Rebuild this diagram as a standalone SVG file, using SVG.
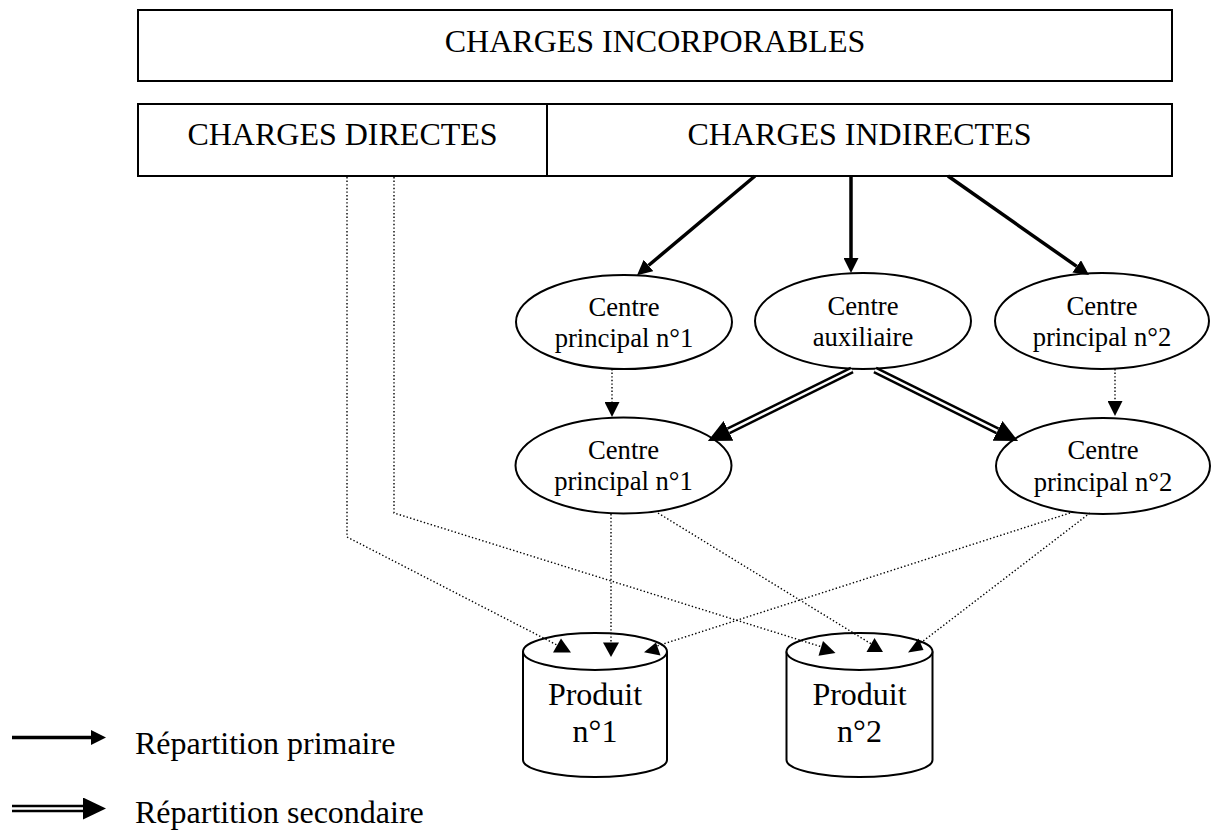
<svg xmlns="http://www.w3.org/2000/svg" width="1211" height="832" viewBox="0 0 1211 832">
<style>
.box{fill:#fff;stroke:#000;stroke-width:2}
.shape{fill:#fff;stroke:#000;stroke-width:2}
.t{font-family:"Liberation Serif","Times New Roman",serif;fill:#000;text-anchor:middle}
.big{font-size:32px}
.mid{font-size:26.67px}
.prim{fill:none;stroke:#000;stroke-width:3.5}
.secO{fill:none;stroke:#000;stroke-width:7.5}
.secI{fill:none;stroke:#fff;stroke-width:2.5}
.dot{fill:none;stroke:#000;stroke-width:1.4;stroke-dasharray:1.4 2.2}
.head{fill:#000;stroke:none}
</style>
<defs>
<marker id="mp" markerUnits="userSpaceOnUse" markerWidth="15" markerHeight="15" refX="0" refY="7.5" orient="auto">
<path d="M0,0 L15,7.5 L0,15 z" fill="#000"/>
</marker>
<marker id="ms" markerUnits="userSpaceOnUse" markerWidth="23" markerHeight="22" refX="0" refY="11" orient="auto">
<path d="M0,0 L23,11 L0,22 z" fill="#000"/>
</marker>
<marker id="md" markerUnits="userSpaceOnUse" markerWidth="15" markerHeight="15" refX="0" refY="7.5" orient="auto">
<path d="M0,0 L15,7.5 L0,15 z" fill="#000"/>
</marker>
</defs>

<g id="charges-incorporables">
<rect class="box" x="138" y="10" width="1034" height="71"/>
<text class="t big" x="655" y="52">CHARGES INCORPORABLES</text>
</g>
<g id="charges-directes">
<rect class="box" x="138" y="104" width="409" height="72"/>
<text class="t big" x="342.5" y="145">CHARGES DIRECTES</text>
</g>
<g id="charges-indirectes">
<rect class="box" x="547" y="104" width="625" height="72"/>
<text class="t big" x="859.5" y="145">CHARGES INDIRECTES</text>
</g>

<g id="centre-p1-a">
<ellipse class="shape" cx="624" cy="322" rx="108" ry="47"/>
<text class="t mid" x="624" y="315.5">Centre</text>
<text class="t mid" x="624" y="346.5">principal n°1</text>
</g>
<g id="centre-aux">
<ellipse class="shape" cx="863" cy="321" rx="108" ry="48"/>
<text class="t mid" x="863" y="315">Centre</text>
<text class="t mid" x="863" y="346">auxiliaire</text>
</g>
<g id="centre-p2-a">
<ellipse class="shape" cx="1102" cy="321" rx="107" ry="48"/>
<text class="t mid" x="1102" y="315">Centre</text>
<text class="t mid" x="1102" y="346">principal n°2</text>
</g>

<g id="centre-p1-b">
<ellipse class="shape" cx="623.5" cy="465.5" rx="108" ry="48"/>
<text class="t mid" x="623.5" y="459">Centre</text>
<text class="t mid" x="623.5" y="490">principal n°1</text>
</g>
<g id="centre-p2-b">
<ellipse class="shape" cx="1103" cy="466" rx="107" ry="48"/>
<text class="t mid" x="1103" y="459">Centre</text>
<text class="t mid" x="1103" y="490.5">principal n°2</text>
</g>

<g id="produit-1">
<path class="shape" d="M523,651.5 L523,760 A72,17 0 0 0 667,760 L667,651.5"/>
<ellipse class="shape" cx="595" cy="651.5" rx="72" ry="18.5"/>
<text class="t big" x="595" y="705">Produit</text>
<text class="t big" x="595" y="742">n°1</text>
</g>
<g id="produit-2">
<path class="shape" d="M786.5,651.5 L786.5,760 A73,17 0 0 0 932.5,760 L932.5,651.5"/>
<ellipse class="shape" cx="859.5" cy="651.5" rx="73" ry="18.5"/>
<text class="t big" x="859.5" y="705">Produit</text>
<text class="t big" x="859.5" y="742">n°2</text>
</g>

<g id="connectors">
<line class="prim" x1="755" y1="176" x2="648.5" y2="265.5" marker-end="url(#mp)"/>
<line class="prim" x1="851" y1="176" x2="851" y2="258" marker-end="url(#mp)"/>
<line class="prim" x1="948" y1="176" x2="1076.7" y2="266.4" marker-end="url(#mp)"/>

<line class="secO" x1="852" y1="370" x2="728.5" y2="430.8" marker-end="url(#ms)"/>
<line class="secI" x1="852" y1="370" x2="728.5" y2="430.8"/>
<line class="secO" x1="875" y1="370" x2="997.5" y2="430.8" marker-end="url(#ms)"/>
<line class="secI" x1="875" y1="370" x2="997.5" y2="430.8"/>

<line class="dot" x1="612" y1="369" x2="612" y2="402" marker-end="url(#md)"/>
<line class="dot" x1="1115" y1="369" x2="1115" y2="401" marker-end="url(#md)"/>

<polyline class="dot" points="347,177 347,537 557,645"/>
<polyline class="dot" points="394,177 394,513 822,647"/>
<line class="dot" x1="611" y1="514" x2="611" y2="643"/>
<line class="dot" x1="658" y1="513" x2="873" y2="645"/>
<line class="dot" x1="1070" y1="513" x2="657" y2="646"/>
<line class="dot" x1="1090" y1="513" x2="918" y2="645"/>

<polygon class="head" points="553,652.5 561,638.5 571,652.5"/>
<polygon class="head" points="603,642.5 619,642.5 611,657"/>
<polygon class="head" points="644,652.3 656,642.5 660.5,655.5"/>
<polygon class="head" points="818.5,655.7 823,641 835.5,653"/>
<polygon class="head" points="866.5,652 874.5,638 883,652"/>
<polygon class="head" points="908,652.5 918.5,638.5 923.5,650"/>
</g>

<g id="legend">
<line class="prim" x1="12" y1="737.5" x2="91" y2="737.5" marker-end="url(#mp)"/>
<text class="t big" x="135" y="753.5" text-anchor="start" style="text-anchor:start">Répartition primaire</text>
<line class="secO" x1="12" y1="808.5" x2="83" y2="808.5" marker-end="url(#ms)"/>
<line class="secI" x1="12" y1="808.5" x2="83" y2="808.5"/>
<text class="t big" x="135" y="823" style="text-anchor:start">Répartition secondaire</text>
</g>
</svg>
